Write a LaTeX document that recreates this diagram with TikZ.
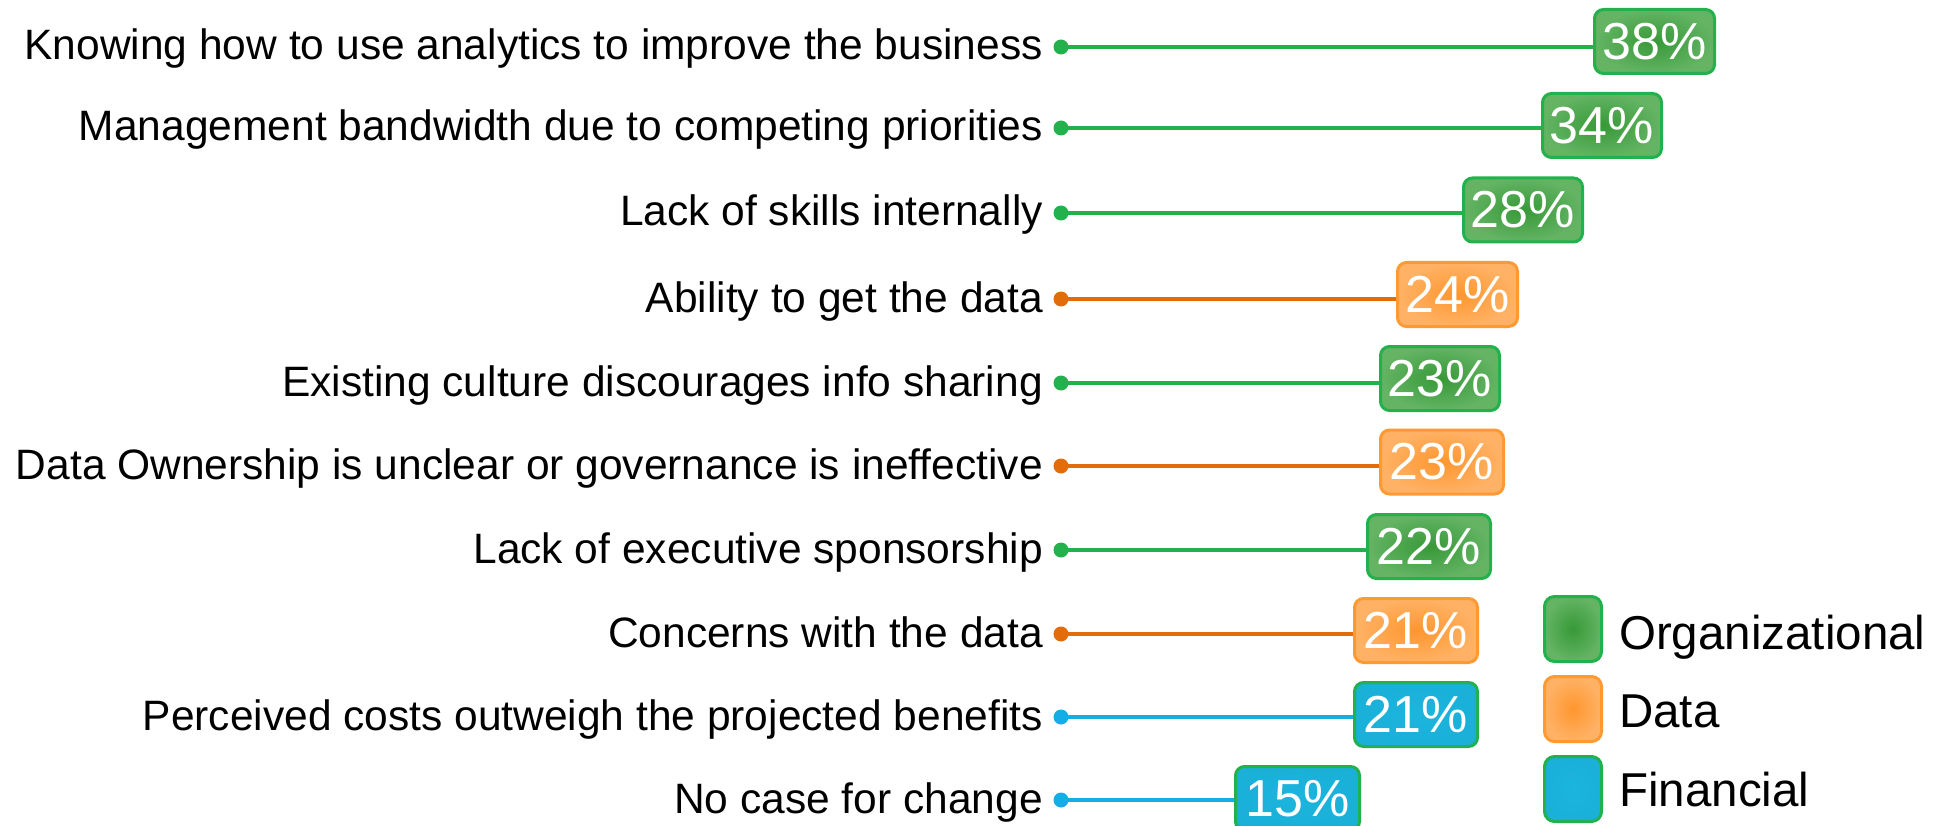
\documentclass[tikz,border=0pt]{standalone}
\usepackage{fontspec}
\setmainfont{Liberation Sans}
\usetikzlibrary{backgrounds}
\definecolor{grnline}{HTML}{22B14C}
\definecolor{orgline}{HTML}{E36C0A}
\definecolor{bluline}{HTML}{14ADE6}
\definecolor{grnin}{HTML}{379937}
\definecolor{grnout}{HTML}{64B464}
\definecolor{ornin}{HTML}{FF962E}
\definecolor{ornout}{HTML}{FFB266}
\definecolor{ornbd}{HTML}{FF9A33}
\definecolor{bluin}{HTML}{1BB5DE}
\definecolor{bluout}{HTML}{1AB0D8}
\tikzset{
  lab/.style={anchor=base east, inner sep=0pt, font=\fontsize{42.5}{50}\selectfont},
  dotbase/.style={circle, inner sep=0pt, minimum size=15pt},
  gdot/.style={dotbase, fill=grnline},
  odot/.style={dotbase, fill=orgline},
  bdot/.style={dotbase, fill=bluline},
  gcon/.style={draw=grnline, line width=4.5pt},
  ocon/.style={draw=orgline, line width=4.5pt},
  bcon/.style={draw=bluline, line width=4.5pt},
  pct/.style={rounded corners=9pt, line width=3pt, minimum height=64pt, inner sep=0pt,
    text=white, font=\fontsize{52}{60}\selectfont},
  gbox/.style={pct, draw=grnline, inner color=grnin, outer color=grnout},
  obox/.style={pct, draw=ornbd, inner color=ornin, outer color=ornout},
  bbox/.style={pct, draw=grnline, inner color=bluin, outer color=bluout},
  leg/.style={anchor=base west, inner sep=0pt, font=\fontsize{47.5}{55}\selectfont},
  sq/.style={minimum width=57pt, minimum height=65pt, rounded corners=10pt}
}
\begin{document}
\begin{tikzpicture}[x=1pt, y=-1pt]
\useasboundingbox (0,0) rectangle (1945,826);
\clip (0,0) rectangle (1945,826);

% labels
\node[lab] (l1) at (1043,60) {Knowing how to use analytics to improve the business};
\node[lab] (l2) at (1043,141) {Management bandwidth due to competing priorities};
\node[lab] (l3) at (1043,226) {Lack of skills internally};
\node[lab] (l4) at (1043,312) {Ability to get the data};
\node[lab] (l5) at (1043,396) {Existing culture discourages info sharing};
\node[lab] (l6) at (1043,479) {Data Ownership is unclear or governance is ineffective};
\node[lab] (l7) at (1043,563) {Lack of executive sponsorship};
\node[lab] (l8) at (1043,647) {Concerns with the data};
\node[lab] (l9) at (1043,730) {Perceived costs outweigh the projected benefits};
\node[lab] (l10) at (1043,813) {No case for change};

% dots
\node[gdot] (d1) at (1061,47) {};
\node[gdot] (d2) at (1061,128) {};
\node[gdot] (d3) at (1061,213) {};
\node[odot] (d4) at (1061,299) {};
\node[gdot] (d5) at (1061,383) {};
\node[odot] (d6) at (1061,466) {};
\node[gdot] (d7) at (1061,550) {};
\node[odot] (d8) at (1061,634) {};
\node[bdot] (d9) at (1061,717) {};
\node[bdot] (d10) at (1061,800) {};

% value boxes
\node[gbox, minimum width=120pt] (b1) at (1654.5,41.5) {38\%};
\node[gbox, minimum width=119pt] (b2) at (1602,125.5) {34\%};
\node[gbox, minimum width=119pt] (b3) at (1523,210) {28\%};
\node[obox, minimum width=120pt] (b4) at (1457.5,294.5) {24\%};
\node[gbox, minimum width=119pt] (b5) at (1440,378.5) {23\%};
\node[obox, minimum width=123pt] (b6) at (1442,462) {23\%};
\node[gbox, minimum width=123pt] (b7) at (1429,546.5) {22\%};
\node[obox, minimum width=123pt] (b8) at (1416,630.5) {21\%};
\node[bbox, minimum width=123pt] (b9) at (1416,714.5) {21\%};
\node[bbox, minimum width=124pt] (b10) at (1297.5,798.5) {15\%};

% connectors
\begin{pgfonlayer}{background}
\draw[gcon] (d1.center) -- (d1 -| b1.west);
\draw[gcon] (d2.center) -- (d2 -| b2.west);
\draw[gcon] (d3.center) -- (d3 -| b3.west);
\draw[ocon] (d4.center) -- (d4 -| b4.west);
\draw[gcon] (d5.center) -- (d5 -| b5.west);
\draw[ocon] (d6.center) -- (d6 -| b6.west);
\draw[gcon] (d7.center) -- (d7 -| b7.west);
\draw[ocon] (d8.center) -- (d8 -| b8.west);
\draw[bcon] (d9.center) -- (d9 -| b9.west);
\draw[bcon] (d10.center) -- (d10 -| b10.west);
\end{pgfonlayer}

% legend
\node[gbox, sq] (s1) at (1573,629) {};
\node[obox, sq] (s2) at (1573,709) {};
\node[bbox, sq] (s3) at (1573,789) {};
\node[leg] (t1) at (1619,649) {Organizational};
\node[leg] (t2) at (1619,727) {Data};
\node[leg] (t3) at (1619,806) {Financial};
\end{tikzpicture}
\end{document}
